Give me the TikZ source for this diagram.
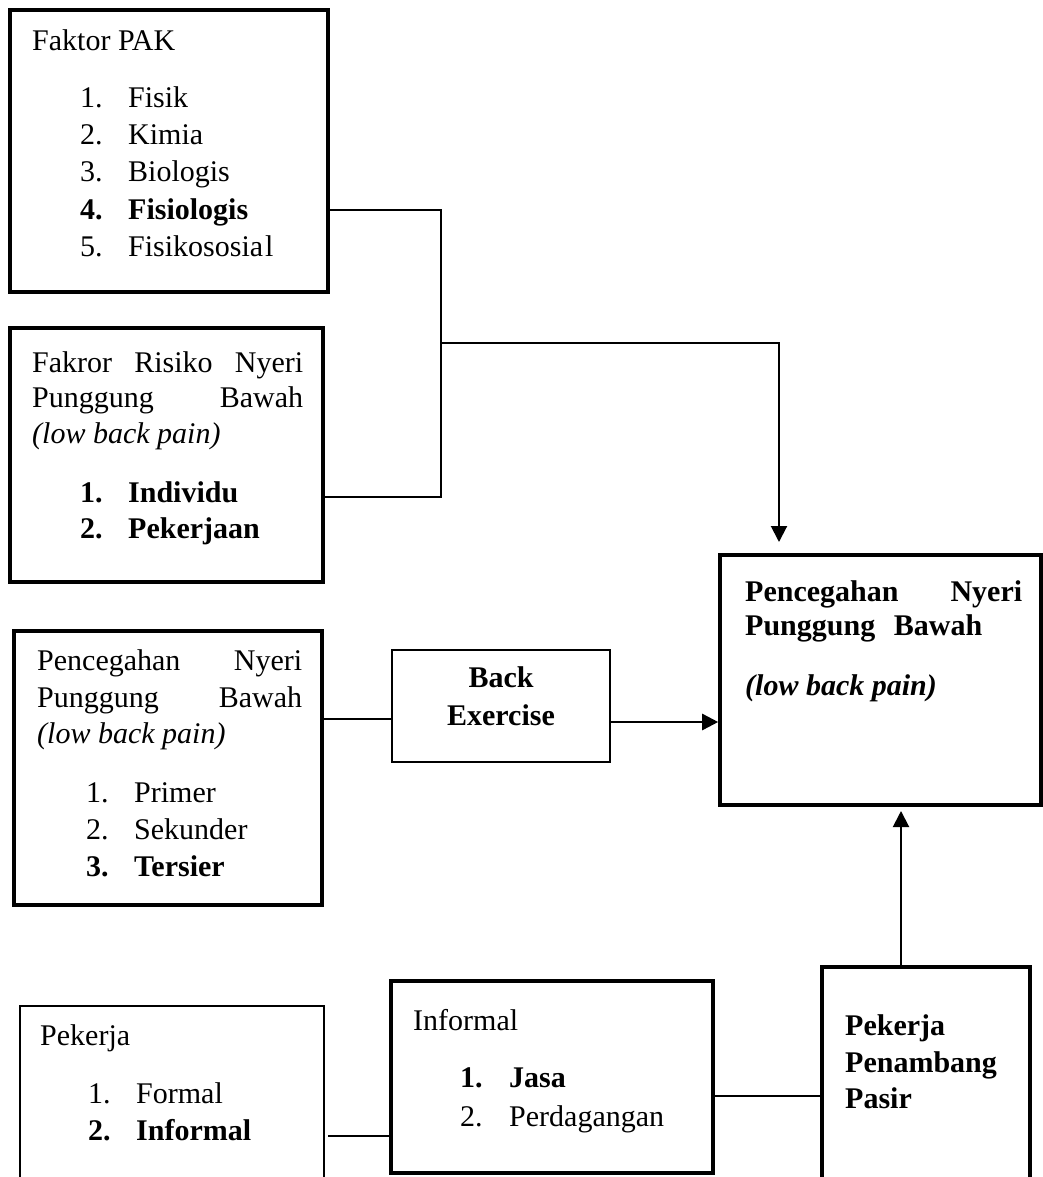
\documentclass[tikz,border=0pt]{standalone}
\usepackage{fontspec}
\setmainfont{Liberation Serif}
\usetikzlibrary{arrows.meta,fit}
\begin{document}
\begin{tikzpicture}[x=1pt,y=-1pt,
  thickbox/.style={draw,line width=3.6pt,inner sep=0pt},
  thinbox/.style={draw,line width=2pt,inner sep=0pt},
  txt/.style={anchor=base west,inner sep=0pt,font=\fontsize{30}{36}\selectfont},
  btxt/.style={anchor=base west,inner sep=0pt,font=\fontsize{30}{36}\selectfont\bfseries},
  conn/.style={line width=2pt},
  arr/.style={line width=2pt,-{Triangle[length=16pt,width=16pt]}}]
\useasboundingbox (0,0) rectangle (1043,1177);
\clip (0,0) rectangle (1043,1177);
% boxes
\node[thickbox,fit={(10,10)(328,292)}] (pak) {};
\node[thickbox,fit={(10,328)(323,582)}] (risk) {};
\node[thickbox,fit={(14,631)(322,905)}] (prev) {};
\node[thinbox,fit={(392,650)(610,762)}] (bex) {};
\node[thickbox,fit={(720,555)(1041,805)}] (goal) {};
\node[thinbox,fit={(20,1006)(324,1200)}] (pek) {};
\node[thickbox,fit={(391,981)(713,1173)}] (inf) {};
\node[thickbox,fit={(822,967)(1030,1200)}] (ppp) {};
% Faktor PAK
\node[txt] (pak0) at (32,51) {Faktor PAK};
\node[txt] (pak1) at (80,108) {\makebox[48pt][l]{1.}Fisik};
\node[txt] (pak2) at (80,145) {\makebox[48pt][l]{2.}Kimia};
\node[txt] (pak3) at (80,182) {\makebox[48pt][l]{3.}Biologis};
\node[btxt] (pak4) at (80,219) {\makebox[48pt][l]{4.}Fisiologis};
\node[txt] (pak5) at (80,256) {\makebox[48pt][l]{5.}Fisikososia\kern2pt l};
% Faktor risiko
\node[txt] (risk1) at (32,372) {\makebox[271pt][s]{Fakror Risiko Nyeri}};
\node[txt] (risk2) at (32,407) {\makebox[271pt][s]{Punggung Bawah}};
\node[txt] (risk3) at (32,443) {\itshape (low back pain)};
\node[btxt] (risk4) at (80,502) {\makebox[48pt][l]{1.}Individu};
\node[btxt] (risk5) at (80,538) {\makebox[48pt][l]{2.}Pekerjaan};
% Pencegahan
\node[txt] (prev1) at (37,670) {\makebox[265pt][s]{Pencegahan Nyeri}};
\node[txt] (prev2) at (37,707) {\makebox[265pt][s]{Punggung Bawah}};
\node[txt] (prev3) at (37,743) {\itshape (low back pain)};
\node[txt] (prev4) at (86,802) {\makebox[48pt][l]{1.}Primer};
\node[txt] (prev5) at (86,839) {\makebox[48pt][l]{2.}Sekunder};
\node[btxt] (prev6) at (86,876) {\makebox[48pt][l]{3.}Tersier};
% Back exercise
\node[btxt,anchor=base] (bex1) at (501,687) {Back};
\node[btxt,anchor=base] (bex2) at (501,725) {Exercise};
% Goal
\node[btxt] (goal1) at (745,601) {\makebox[277pt][s]{Pencegahan Nyeri}};
\node[btxt] (goal2) at (745,635) {\makebox[237pt][s]{Punggung Bawah}};
\node[btxt] (goal3) at (745,695) {\itshape (low back pain)};
% Pekerja
\node[txt] (pek1) at (40,1045) {Pekerja};
\node[txt] (pek2) at (88,1103) {\makebox[48pt][l]{1.}Formal};
\node[btxt] (pek3) at (88,1140) {\makebox[48pt][l]{2.}Informal};
% Informal
\node[txt] (inf1) at (413,1030) {Informal};
\node[btxt] (inf2) at (460,1087) {\makebox[49pt][l]{1.}Jasa};
\node[txt] (inf3) at (460,1126) {\makebox[49pt][l]{2.}Perdagangan};
% PPP
\node[btxt] (ppp1) at (845,1035) {Pekerja};
\node[btxt] (ppp2) at (845,1072) {Penambang};
\node[btxt] (ppp3) at (845,1108) {Pasir};
% connectors
\coordinate (jA) at (441,210);
\coordinate (jB) at (441,497);
\coordinate (jC) at (441,343);
\coordinate (jD) at (779,343);
\coordinate (tipD) at (779,542);
\draw[conn] (pak.east |- jA) -- (jA) -- (jB) -- (risk.east |- jB);
\draw[arr] (jC) -- (jD) -- (tipD);
\coordinate (yPB) at (0,719);
\draw[conn] (prev.east |- yPB) -- (bex.west |- yPB);
\coordinate (yBG) at (0,722);
\draw[arr,line width=2.6pt] (bex.east |- yBG) -- (goal.west |- yBG);
\coordinate (tipU) at (901,811);
\draw[arr] (tipU |- ppp.north) -- (tipU);
\coordinate (yIP) at (0,1096);
\draw[conn] (inf.east |- yIP) -- (ppp.west |- yIP);
\coordinate (yPI) at (0,1136);
\coordinate (xPI) at (328,0);
\draw[conn] (xPI |- yPI) -- (inf.west |- yPI);
\end{tikzpicture}
\end{document}
